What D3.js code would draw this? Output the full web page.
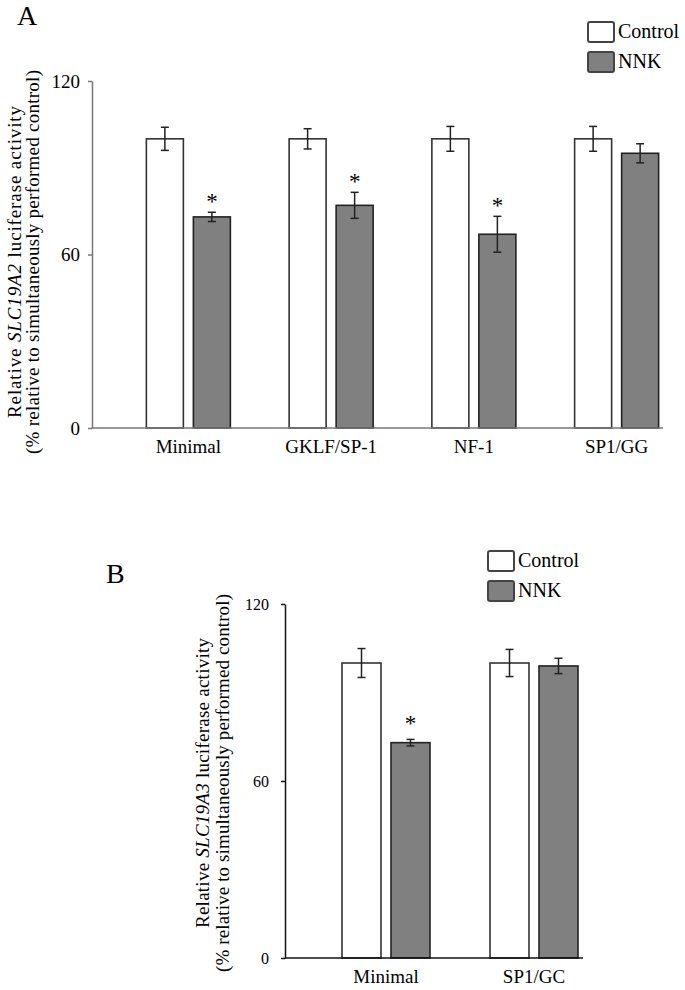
<!DOCTYPE html>
<html>
<head>
<meta charset="utf-8">
<script src="https://cdn.jsdelivr.net/npm/d3@7"></script>
<style>
  html, body { margin: 0; padding: 0; background: #fff; }
  svg { display: block; }
  text { font-family: "Liberation Serif", "Times New Roman", serif; fill: #000; }
</style>
</head>
<body>
<svg id="chart" width="685" height="990"></svg>
<script>
// ---------- data ----------
const series = ["Control", "NNK"];
const yTicks = [0, 60, 120];

const categoriesA = ["Minimal", "GKLF/SP-1", "NF-1", "SP1/GG"];
const controlA    = [100, 100, 100, 100];
const controlErrA = [4.0, 3.5, 4.3, 4.3];
const nnkA        = [73, 77, 67, 95];
const nnkErrA     = [1.6, 4.5, 6.2, 3.3];
const sigA        = [true, true, true, false];

const categoriesB = ["Minimal", "SP1/GC"];
const controlB    = [100, 100];
const controlErrB = [4.9, 4.6];
const nnkB        = [73, 99];
const nnkErrB     = [1.1, 2.6];
const sigB        = [true, false];

const geneA = "SLC19A2";
const geneB = "SLC19A3";

// ---------- drawing ----------
const svg = d3.select("#chart");
const fills = { Control: "#ffffff", NNK: "#808080" };

function panel(cfg) {
  const g = svg.append("g");
  const y = d3.scaleLinear().domain([0, 120]).range([cfg.y0, cfg.y1]);
  const x = d3.scaleBand().domain(cfg.cats).range(cfg.bandRange).padding(0);
  const bw = x.bandwidth();
  const pairW = cfg.barW * 2 + cfg.gap;
  const xs = d3.scaleBand().domain(series)
    .range([bw / 2 - pairW / 2, bw / 2 + pairW / 2])
    .paddingInner(cfg.gap / (cfg.barW + cfg.gap)).paddingOuter(0);

  const rows = [];
  cfg.cats.forEach((c, i) => {
    rows.push({ cat: c, s: "Control", v: cfg.ctrl[i], e: cfg.ctrlErr[i], sig: false });
    rows.push({ cat: c, s: "NNK", v: cfg.nnk[i], e: cfg.nnkErr[i], sig: cfg.sig[i] });
  });

  // bars
  g.selectAll("rect.bar").data(rows).enter().append("rect")
    .attr("class", "bar")
    .attr("x", d => x(d.cat) + xs(d.s))
    .attr("y", d => y(d.v))
    .attr("width", xs.bandwidth())
    .attr("height", d => y(0) - y(d.v))
    .attr("fill", d => fills[d.s])
    .attr("stroke", d => d.s === "NNK" ? "#222" : "#333")
    .attr("stroke-width", 1.6);

  // error bars
  const eg = g.selectAll("g.err").data(rows).enter().append("g")
    .attr("class", "err")
    .attr("stroke", "#222").attr("stroke-width", 1.5);
  const cx = d => x(d.cat) + xs(d.s) + xs.bandwidth() / 2;
  eg.append("line")
    .attr("x1", cx).attr("x2", cx)
    .attr("y1", d => y(d.v + d.e)).attr("y2", d => y(d.v - d.e));
  eg.append("line")
    .attr("x1", d => cx(d) - 4).attr("x2", d => cx(d) + 4)
    .attr("y1", d => y(d.v + d.e)).attr("y2", d => y(d.v + d.e));
  eg.append("line")
    .attr("x1", d => cx(d) - 4).attr("x2", d => cx(d) + 4)
    .attr("y1", d => y(d.v - d.e)).attr("y2", d => y(d.v - d.e));

  // significance asterisks
  g.selectAll("text.sig").data(rows.filter(d => d.sig)).enter().append("text")
    .attr("class", "sig")
    .attr("x", cx)
    .attr("y", d => y(d.v + d.e) - cfg.starGap)
    .attr("text-anchor", "middle")
    .attr("font-size", 23)
    .text("*");

  // y axis
  const ya = g.append("g")
    .attr("transform", `translate(${cfg.axisX},0)`)
    .call(d3.axisLeft(y).tickValues(yTicks).tickSize(4).tickSizeOuter(0).tickPadding(cfg.tickPad).tickFormat(d3.format("d")));
  ya.selectAll("path, line").attr("stroke", cfg.axisColor).attr("stroke-width", 1.5);
  ya.selectAll("text").attr("font-size", cfg.tickFont)
    .attr("font-family", '"Liberation Serif", "Times New Roman", serif').attr("fill", "#000");

  // baseline
  g.append("line")
    .attr("x1", cfg.axisX).attr("x2", cfg.axisEnd)
    .attr("y1", y(0)).attr("y2", y(0))
    .attr("stroke", cfg.axisColor).attr("stroke-width", 1.5);

  // category labels
  g.selectAll("text.cat").data(cfg.cats).enter().append("text")
    .attr("class", "cat")
    .attr("x", d => x(d) + bw / 2)
    .attr("y", cfg.catY)
    .attr("text-anchor", "middle")
    .attr("font-size", 19)
    .text(d => d);

  // y label (two lines, rotated)
  const midY = cfg.labelMidY;
  const l1 = g.append("text")
    .attr("transform", `translate(${cfg.label1X},${midY}) rotate(-90)`)
    .attr("text-anchor", "middle")
    .attr("font-size", 19)
    .attr("textLength", cfg.len1).attr("lengthAdjust", "spacing");
  l1.append("tspan").text("Relative ");
  l1.append("tspan").attr("font-style", "italic").text(cfg.gene);
  l1.append("tspan").text(" luciferase activity");
  g.append("text")
    .attr("transform", `translate(${cfg.label2X},${midY}) rotate(-90)`)
    .attr("text-anchor", "middle")
    .attr("font-size", 19)
    .attr("textLength", cfg.len2).attr("lengthAdjust", "spacing")
    .text("(% relative to simultaneously performed control)");

  // panel letter
  g.append("text").attr("x", cfg.letterX).attr("y", cfg.letterY)
    .attr("font-size", 28).text(cfg.letter);

  // legend
  const lg = g.append("g");
  series.forEach((s, i) => {
    lg.append("rect")
      .attr("x", cfg.legX).attr("y", cfg.legY + i * 30)
      .attr("width", 26).attr("height", 20).attr("rx", 2)
      .attr("fill", fills[s]).attr("stroke", "#444").attr("stroke-width", 2);
    lg.append("text")
      .attr("x", cfg.legX + 30).attr("y", cfg.legY + i * 30 + 16)
      .attr("font-size", 20).text(s);
  });
}

panel({
  cats: categoriesA, ctrl: controlA, ctrlErr: controlErrA, nnk: nnkA, nnkErr: nnkErrA, sig: sigA,
  gene: geneA, letter: "A", letterX: 17, letterY: 25,
  y0: 428, y1: 81, bandRange: [117, 688], barW: 37, gap: 10,
  axisX: 92, axisEnd: 663, axisColor: "#777", tickFont: 19, tickPad: 8,
  catY: 453, starGap: 3,
  label1X: 21, label2X: 39, labelMidY: 262, len1: 312, len2: 384,
  legX: 588, legY: 22
});

panel({
  cats: categoriesB, ctrl: controlB, ctrlErr: controlErrB, nnk: nnkB, nnkErr: nnkErrB, sig: sigB,
  gene: geneB, letter: "B", letterX: 106, letterY: 583,
  y0: 958, y1: 604, bandRange: [312, 608], barW: 39, gap: 10,
  axisX: 285, axisEnd: 583, axisColor: "#111", tickFont: 16, tickPad: 12,
  catY: 983, starGap: 8,
  label1X: 209, label2X: 229, labelMidY: 783, len1: 290, len2: 378,
  legX: 488, legY: 551
});
</script>
</body>
</html>
